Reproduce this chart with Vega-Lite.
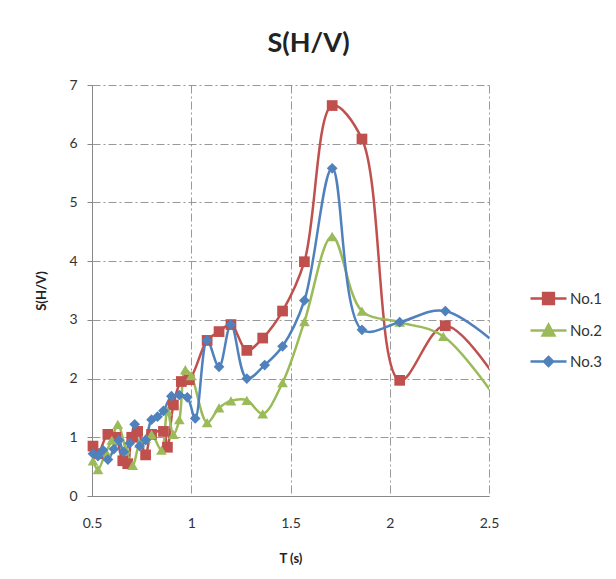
{
  "$schema": "https://vega.github.io/schema/vega-lite/v6.json",
  "width": 397,
  "height": 411,
  "autosize": {"type": "none"},
  "padding": {"left": 92, "top": 85, "right": 127, "bottom": 83},
  "background": "white",
  "title": {"text": "S(H/V)", "fontSize": 27, "font": "Lato", "fontWeight": "bold", "color": "#222", "anchor": "middle", "offset": 20, "dx": 18},
  "data": {"values": [
    {"series": "No.1", "T": 0.505, "S": 0.85},
    {"series": "No.1", "T": 0.53, "S": 0.72},
    {"series": "No.1", "T": 0.58, "S": 1.05},
    {"series": "No.1", "T": 0.62, "S": 1.0},
    {"series": "No.1", "T": 0.655, "S": 0.6},
    {"series": "No.1", "T": 0.68, "S": 0.55},
    {"series": "No.1", "T": 0.70, "S": 1.0},
    {"series": "No.1", "T": 0.73, "S": 1.1},
    {"series": "No.1", "T": 0.77, "S": 0.7},
    {"series": "No.1", "T": 0.80, "S": 1.05},
    {"series": "No.1", "T": 0.86, "S": 1.1},
    {"series": "No.1", "T": 0.88, "S": 0.83},
    {"series": "No.1", "T": 0.91, "S": 1.55},
    {"series": "No.1", "T": 0.95, "S": 1.95},
    {"series": "No.1", "T": 0.99, "S": 1.98},
    {"series": "No.1", "T": 1.08, "S": 2.65},
    {"series": "No.1", "T": 1.14, "S": 2.8},
    {"series": "No.1", "T": 1.20, "S": 2.92},
    {"series": "No.1", "T": 1.28, "S": 2.48},
    {"series": "No.1", "T": 1.36, "S": 2.69},
    {"series": "No.1", "T": 1.46, "S": 3.15},
    {"series": "No.1", "T": 1.57, "S": 3.99},
    {"series": "No.1", "T": 1.71, "S": 6.65},
    {"series": "No.1", "T": 1.86, "S": 6.08},
    {"series": "No.1", "T": 2.05, "S": 1.97},
    {"series": "No.1", "T": 2.28, "S": 2.9},
    {"series": "No.1", "T": 2.65, "S": 1.4},
    {"series": "No.2", "T": 0.505, "S": 0.6},
    {"series": "No.2", "T": 0.53, "S": 0.45},
    {"series": "No.2", "T": 0.57, "S": 0.75},
    {"series": "No.2", "T": 0.60, "S": 0.95},
    {"series": "No.2", "T": 0.63, "S": 1.22},
    {"series": "No.2", "T": 0.67, "S": 0.8},
    {"series": "No.2", "T": 0.705, "S": 0.52},
    {"series": "No.2", "T": 0.74, "S": 0.9},
    {"series": "No.2", "T": 0.77, "S": 0.98},
    {"series": "No.2", "T": 0.80, "S": 1.05},
    {"series": "No.2", "T": 0.85, "S": 0.78},
    {"series": "No.2", "T": 0.88, "S": 1.45},
    {"series": "No.2", "T": 0.91, "S": 1.05},
    {"series": "No.2", "T": 0.94, "S": 1.3},
    {"series": "No.2", "T": 0.97, "S": 2.15},
    {"series": "No.2", "T": 1.00, "S": 2.05},
    {"series": "No.2", "T": 1.08, "S": 1.25},
    {"series": "No.2", "T": 1.14, "S": 1.5},
    {"series": "No.2", "T": 1.20, "S": 1.62},
    {"series": "No.2", "T": 1.28, "S": 1.63},
    {"series": "No.2", "T": 1.36, "S": 1.4},
    {"series": "No.2", "T": 1.46, "S": 1.93},
    {"series": "No.2", "T": 1.57, "S": 2.97},
    {"series": "No.2", "T": 1.71, "S": 4.42},
    {"series": "No.2", "T": 1.86, "S": 3.15},
    {"series": "No.2", "T": 2.05, "S": 2.96},
    {"series": "No.2", "T": 2.27, "S": 2.72},
    {"series": "No.2", "T": 2.65, "S": 1.1},
    {"series": "No.3", "T": 0.505, "S": 0.72},
    {"series": "No.3", "T": 0.53, "S": 0.68},
    {"series": "No.3", "T": 0.555, "S": 0.78},
    {"series": "No.3", "T": 0.58, "S": 0.62},
    {"series": "No.3", "T": 0.61, "S": 0.8},
    {"series": "No.3", "T": 0.635, "S": 0.95},
    {"series": "No.3", "T": 0.66, "S": 0.75},
    {"series": "No.3", "T": 0.69, "S": 0.9},
    {"series": "No.3", "T": 0.715, "S": 1.22},
    {"series": "No.3", "T": 0.74, "S": 0.85},
    {"series": "No.3", "T": 0.77, "S": 0.95},
    {"series": "No.3", "T": 0.80, "S": 1.3},
    {"series": "No.3", "T": 0.83, "S": 1.35},
    {"series": "No.3", "T": 0.86, "S": 1.45},
    {"series": "No.3", "T": 0.90, "S": 1.7},
    {"series": "No.3", "T": 0.94, "S": 1.72},
    {"series": "No.3", "T": 0.98, "S": 1.68},
    {"series": "No.3", "T": 1.02, "S": 1.32},
    {"series": "No.3", "T": 1.08, "S": 2.65},
    {"series": "No.3", "T": 1.14, "S": 2.2},
    {"series": "No.3", "T": 1.20, "S": 2.92},
    {"series": "No.3", "T": 1.28, "S": 2.0},
    {"series": "No.3", "T": 1.37, "S": 2.23},
    {"series": "No.3", "T": 1.46, "S": 2.55},
    {"series": "No.3", "T": 1.57, "S": 3.33},
    {"series": "No.3", "T": 1.71, "S": 5.58},
    {"series": "No.3", "T": 1.86, "S": 2.83},
    {"series": "No.3", "T": 2.05, "S": 2.96},
    {"series": "No.3", "T": 2.28, "S": 3.15},
    {"series": "No.3", "T": 2.7, "S": 2.1}
  ]},
  "encoding": {
    "x": {
      "field": "T", "type": "quantitative",
      "scale": {"domain": [0.5, 2.5], "nice": false, "zero": false},
      "axis": {"values": [0.5, 1, 1.5, 2, 2.5], "format": "~g", "title": "T (s)", "ticks": false, "labelPadding": 20, "titlePadding": 22, "labelFlush": false}
    },
    "y": {
      "field": "S", "type": "quantitative",
      "scale": {"domain": [0, 7], "nice": false},
      "axis": {"values": [0, 1, 2, 3, 4, 5, 6, 7], "format": "~g", "title": "S(H/V)", "ticks": true, "tickSize": 5, "labelPadding": 10, "titlePadding": 20}
    },
    "color": {
      "field": "series", "type": "nominal",
      "scale": {"domain": ["No.1", "No.2", "No.3"], "range": ["#C0504D", "#9BBB59", "#4F81BD"]},
      "legend": {
        "title": null, "orient": "none", "legendX": 446, "legendY": 203, "padding": 0,
        "rowPadding": 10, "labelOffset": 11, "symbolSize": 324, "labelFontSize": 15, "labelFont": "Lato", "labelColor": "#333",
        "encode": {
          "symbols": {
            "update": {
              "shape": {"signal": "datum.value === 'No.1' ? 'M-2,0H2M-0.6,-0.6H0.6V0.6H-0.6Z' : datum.value === 'No.2' ? 'M-2,0H2M0,-0.65L0.65,0.55L-0.65,0.55Z' : 'M-2,0H2M0,-0.5L0.5,0L0,0.5L-0.5,0Z'"},
              "fill": {"scale": "color", "field": "value"},
              "stroke": {"scale": "color", "field": "value"},
              "strokeWidth": {"value": 2.5},
              "opacity": {"value": 1}
            }
          }
        }
      }
    }
  },
  "layer": [
    {"mark": {"type": "line", "interpolate": "catmull-rom", "strokeWidth": 2.5, "clip": true}},
    {
      "transform": [{"filter": "datum.T <= 2.5 && datum.series === 'No.1'"}],
      "mark": {"type": "point", "filled": true, "size": 115, "opacity": 1, "shape": "square"}
    },
    {
      "transform": [{"filter": "datum.T <= 2.5 && datum.series === 'No.2'"}],
      "mark": {"type": "point", "filled": true, "size": 115, "opacity": 1, "shape": "triangle-up"}
    },
    {
      "transform": [{"filter": "datum.T <= 2.5 && datum.series === 'No.3'"}],
      "mark": {"type": "point", "filled": true, "size": 115, "opacity": 1, "shape": "diamond"}
    }
  ],
  "config": {
    "view": {"stroke": null},
    "font": "Lato",
    "axis": {
      "labelFont": "Lato", "labelFontSize": 14, "labelColor": "#333",
      "titleFont": "Lato", "titleFontSize": 13, "titleFontWeight": "bold", "titleColor": "#222",
      "domainColor": "#888", "domainWidth": 1, "tickColor": "#888",
      "grid": true, "gridColor": "#999", "gridDash": [8, 3, 2, 3], "gridWidth": 1
    }
  }
}
